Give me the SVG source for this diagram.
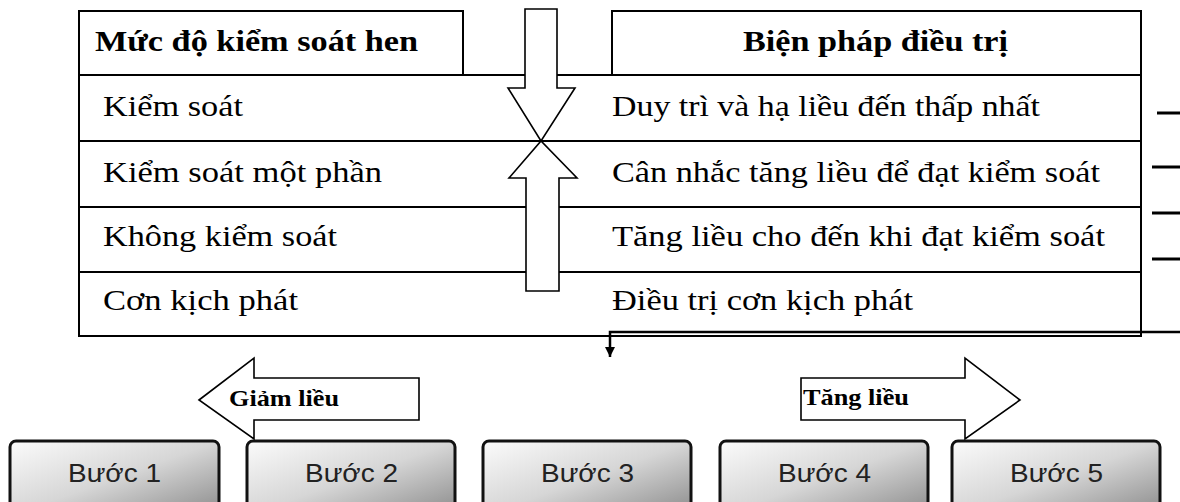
<svg xmlns="http://www.w3.org/2000/svg" width="1180" height="502" viewBox="0 0 1180 502">
<style>
.tl{stroke:#000;stroke-width:2;fill:none}
.cell{font-family:"Liberation Serif","Times New Roman",serif;font-size:30px;fill:#000}
.hd{font-weight:bold}
.blk{fill:#fff;stroke:#000;stroke-width:1.6;stroke-linejoin:miter}
.lbl{font-family:"Liberation Serif","Times New Roman",serif;font-size:23px;font-weight:bold;fill:#000}
.box{fill:url(#g);stroke:#111;stroke-width:3}
.bt{font-family:"Liberation Sans",Arial,sans-serif;font-size:25px;fill:#222}
.con{stroke:#000;stroke-width:2.5;fill:none}
.dash{stroke:#000;stroke-width:3}
</style>
<defs>
<linearGradient id="g" x1="0" y1="0" x2="1" y2="1">
<stop offset="0" stop-color="#fbfbfb"/>
<stop offset="0.5" stop-color="#d6d6d6"/>
<stop offset="1" stop-color="#8a8a8a"/>
</linearGradient>
<marker id="ah" markerUnits="userSpaceOnUse" markerWidth="10" markerHeight="12" refX="10" refY="5" orient="auto" viewBox="0 0 10 10">
<path d="M0,0 L10,5 L0,10 z" fill="#000"/>
</marker>
</defs>
<g id="table">
<line class="tl" x1="79" y1="11" x2="79" y2="337"/>
<line class="tl" x1="1141" y1="11" x2="1141" y2="337"/>
<line class="tl" x1="79" y1="75" x2="1141" y2="75"/>
<line class="tl" x1="79" y1="141" x2="1141" y2="141"/>
<line class="tl" x1="79" y1="207" x2="1141" y2="207"/>
<line class="tl" x1="79" y1="272" x2="1141" y2="272"/>
<line class="tl" x1="79" y1="336" x2="1141" y2="336"/>
</g>
<g id="hdr-level">
<rect class="tl" x="79" y="11" width="384" height="64"/>
<text class="cell hd" x="95" y="51" textLength="323" lengthAdjust="spacingAndGlyphs">Mức độ kiểm soát hen</text>
</g>
<g id="hdr-treatment">
<rect class="tl" x="612" y="11" width="529" height="64"/>
<text class="cell hd" x="743" y="51" textLength="265" lengthAdjust="spacingAndGlyphs">Biện pháp điều trị</text>
</g>
<g id="row1">
<text class="cell" x="103" y="116" textLength="140" lengthAdjust="spacingAndGlyphs">Kiểm soát</text>
<text class="cell" x="612" y="116" textLength="428" lengthAdjust="spacingAndGlyphs">Duy trì và hạ liều đến thấp nhất</text>
</g>
<g id="row2">
<text class="cell" x="103" y="182" textLength="279" lengthAdjust="spacingAndGlyphs">Kiểm soát một phần</text>
<text class="cell" x="612" y="182" textLength="488" lengthAdjust="spacingAndGlyphs">Cân nhắc tăng liều để đạt kiểm soát</text>
</g>
<g id="row3">
<text class="cell" x="103" y="246" textLength="234" lengthAdjust="spacingAndGlyphs">Không kiểm soát</text>
<text class="cell" x="612" y="246" textLength="493" lengthAdjust="spacingAndGlyphs">Tăng liều cho đến khi đạt kiểm soát</text>
</g>
<g id="row4">
<text class="cell" x="103" y="310" textLength="195" lengthAdjust="spacingAndGlyphs">Cơn kịch phát</text>
<text class="cell" x="612" y="310" textLength="301" lengthAdjust="spacingAndGlyphs">Điều trị cơn kịch phát</text>
</g>
<g id="arrow-down">
<polygon class="blk" points="525,9 557,9 557,88 575,88 541,141 508,88 525,88"/>
</g>
<g id="arrow-up">
<polygon class="blk" points="526,291 559,291 559,178 577,178 541,141 509,178 526,178"/>
</g>
<g id="connectors">
<path class="con" d="M1180,332 H610 V357" marker-end="url(#ah)"/>
<line class="dash" x1="1157" y1="113" x2="1180" y2="113"/>
<line class="dash" x1="1152" y1="167" x2="1180" y2="167"/>
<line class="dash" x1="1152" y1="213" x2="1180" y2="213"/>
<line class="dash" x1="1152" y1="259" x2="1180" y2="259"/>
</g>
<g id="arrow-giam">
<polygon class="blk" points="199,400 254,358 254,378 419,378 419,420 254,420 254,439"/>
<text class="lbl" x="229" y="406" textLength="110" lengthAdjust="spacingAndGlyphs">Giảm liều</text>
</g>
<g id="arrow-tang">
<polygon class="blk" points="801,378 965,378 965,358 1020,400 965,439 965,420 801,420"/>
<text class="lbl" x="803" y="405" textLength="106" lengthAdjust="spacingAndGlyphs">Tăng liều</text>
</g>
<g id="step1">
<rect class="box" x="10" y="441" width="209" height="75" rx="6"/>
<text class="bt" x="68" y="482" textLength="93" lengthAdjust="spacingAndGlyphs">Bước 1</text>
</g>
<g id="step2">
<rect class="box" x="247" y="441" width="208" height="75" rx="6"/>
<text class="bt" x="305" y="482" textLength="93" lengthAdjust="spacingAndGlyphs">Bước 2</text>
</g>
<g id="step3">
<rect class="box" x="483" y="441" width="208" height="75" rx="6"/>
<text class="bt" x="541" y="482" textLength="93" lengthAdjust="spacingAndGlyphs">Bước 3</text>
</g>
<g id="step4">
<rect class="box" x="720" y="441" width="208" height="75" rx="6"/>
<text class="bt" x="778" y="482" textLength="93" lengthAdjust="spacingAndGlyphs">Bước 4</text>
</g>
<g id="step5">
<rect class="box" x="952" y="441" width="208" height="75" rx="6"/>
<text class="bt" x="1010" y="482" textLength="93" lengthAdjust="spacingAndGlyphs">Bước 5</text>
</g>
</svg>
